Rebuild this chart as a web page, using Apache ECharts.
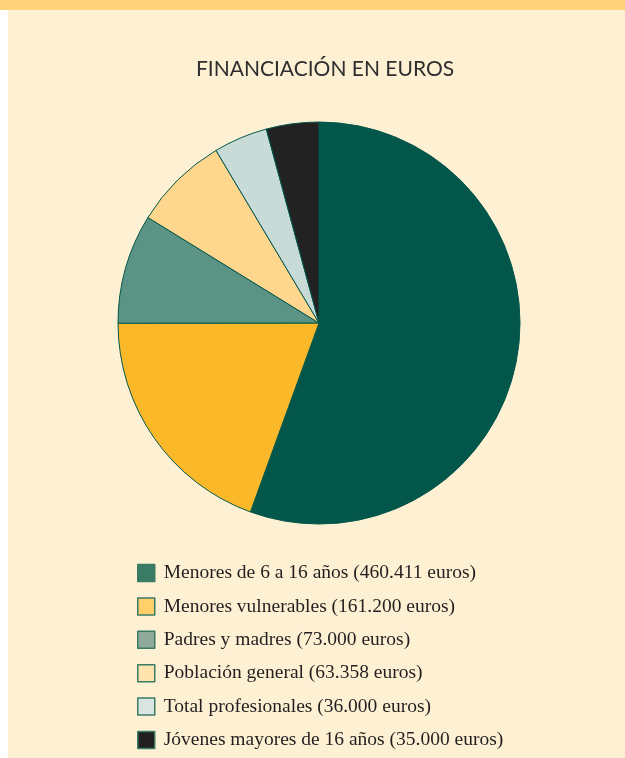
<!DOCTYPE html>
<html>
<head>
<meta charset="utf-8">
<style>
  html, body { margin: 0; padding: 0; background: #fff; }
  #chart { width: 625px; height: 758px; }
</style>
<script src="https://cdn.jsdelivr.net/npm/echarts@6/dist/echarts.min.js"></script>
</head>
<body>
<div id="chart"></div>
<script>
// datos del gráfico
var categories = [
  "Menores de 6 a 16 años",
  "Menores vulnerables",
  "Padres y madres",
  "Población general",
  "Total profesionales",
  "Jóvenes mayores de 16 años"
];
var values = [460411, 161200, 73000, 63358, 36000, 35000];
var amountLabels = ["460.411", "161.200", "73.000", "63.358", "36.000", "35.000"];

var sliceColors = ["#02574a", "#fbb92a", "#5b9385", "#fed68e", "#c8dbd7", "#222222"];
var legendColors = ["#3a7b65", "#ffd06a", "#8faa9a", "#ffe4b0", "#d8e5e0", "#231f20"];

var chart = echarts.init(document.getElementById("chart"));

var pieData = categories.map(function (name, i) {
  return { name: name, value: values[i], itemStyle: { color: sliceColors[i] } };
});
var legendData = categories.map(function (name, i) {
  return {
    name: name,
    itemStyle: { color: legendColors[i], borderColor: "#3a7b65", borderWidth: 1.5 }
  };
});

chart.setOption({
  backgroundColor: "#fef0d3",
  animation: false,
  graphic: [
    { type: "rect", left: 0, top: 0, shape: { width: 625, height: 10 }, style: { fill: "#ffd47a" } },
    { type: "rect", left: 0, top: 10, shape: { width: 8, height: 748 }, style: { fill: "#ffffff" } }
  ],
  title: {
    text: "FINANCIACIÓN EN EUROS",
    left: 320,
    textAlign: "center",
    top: 54,
    textStyle: {
      fontFamily: "Lato",
      fontWeight: "normal",
      fontSize: 21,
      color: "#2e2e2e"
    }
  },
  legend: {
    orient: "vertical",
    left: 132,
    top: 558,
    height: 220,
    itemWidth: 17,
    itemHeight: 17,
    itemGap: 13.4,
    icon: "rect",
    selectedMode: false,
    data: legendData,
    formatter: function (name) {
      var i = categories.indexOf(name);
      return name + " (" + amountLabels[i] + " euros)";
    },
    textStyle: {
      fontFamily: "Liberation Serif",
      fontSize: 19.5,
      lineHeight: 20,
      color: "#231f20",
      padding: [0, 0, 0, 4]
    }
  },
  series: [
    {
      type: "pie",
      center: [319, 323],
      radius: 201,
      startAngle: 90,
      clockwise: true,
      label: { show: false },
      labelLine: { show: false },
      emphasis: { disabled: true },
      itemStyle: { borderColor: "#02574a", borderWidth: 1 },
      data: pieData
    }
  ]
});
</script>
</body>
</html>
